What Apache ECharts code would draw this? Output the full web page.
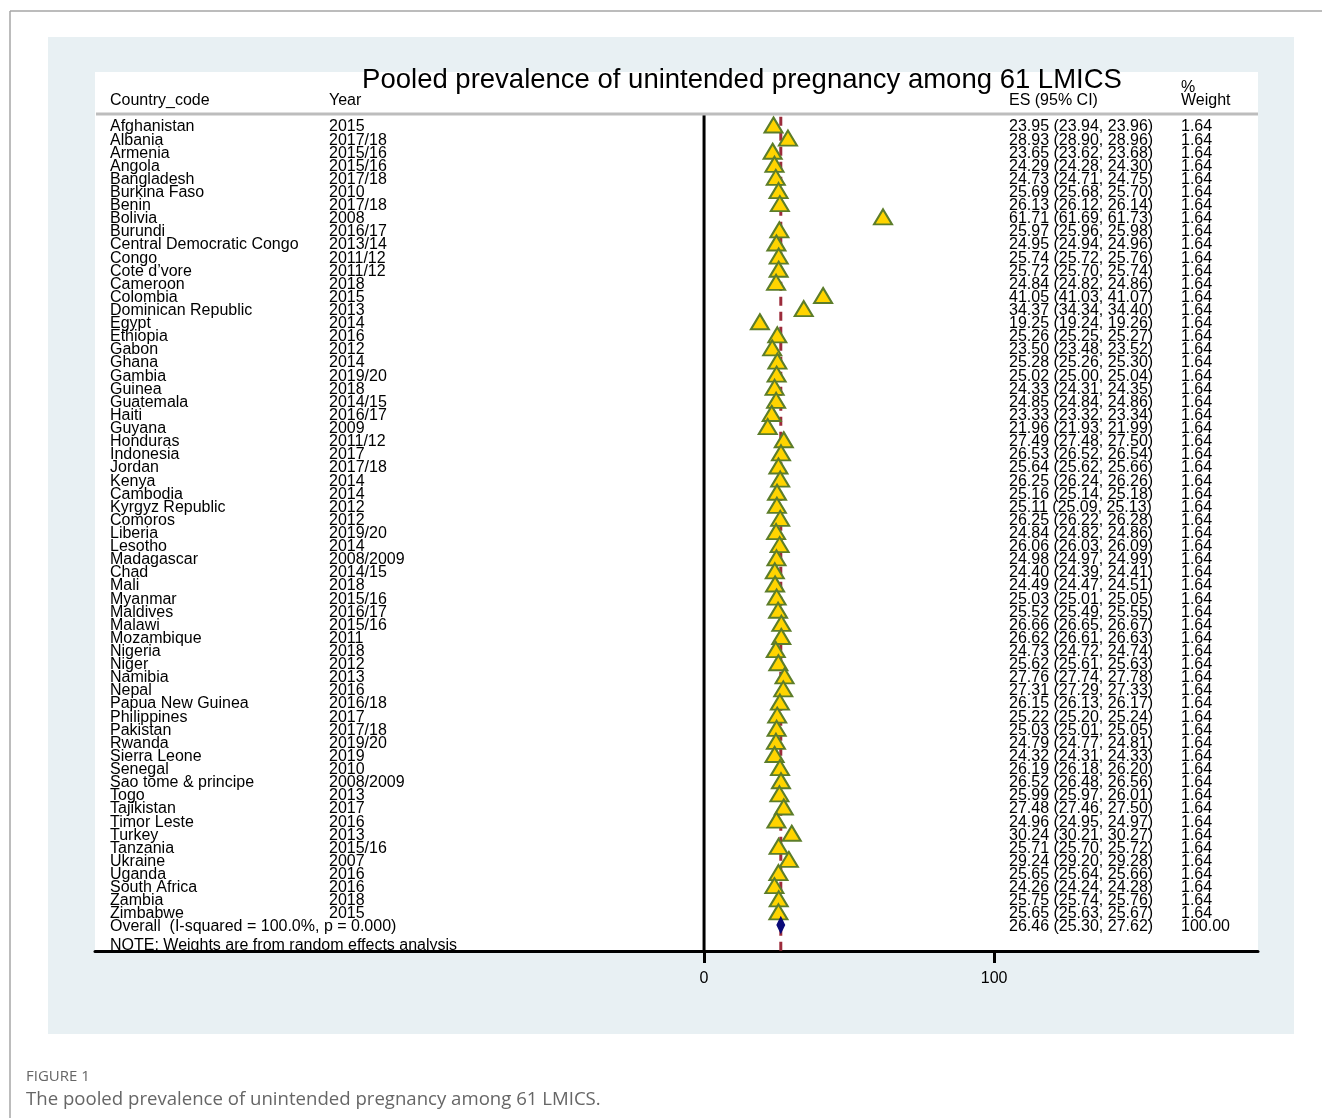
<!DOCTYPE html>
<html>
<head>
<meta charset="utf-8">
<title>Pooled prevalence of unintended pregnancy among 61 LMICS</title>
<script src="https://cdn.jsdelivr.net/npm/echarts@6/dist/echarts.min.js"></script>
<style>
  html, body { margin: 0; padding: 0; background: #ffffff; }
  #chart { width: 1322px; height: 1118px; }
</style>
</head>
<body>
<div id="chart"></div>
<script>
// Study-level prevalence estimates (%), 95% CI and random-effects weights
const countries = ["Afghanistan","Albania","Armenia","Angola","Bangladesh","Burkina Faso","Benin","Bolivia","Burundi","Central Democratic Congo",
  "Congo","Cote d\u2019vore","Cameroon","Colombia","Dominican Republic","Egypt","Ethiopia","Gabon","Ghana","Gambia",
  "Guinea","Guatemala","Haiti","Guyana","Honduras","Indonesia","Jordan","Kenya","Cambodia","Kyrgyz Republic",
  "Comoros","Liberia","Lesotho","Madagascar","Chad","Mali","Myanmar","Maldives","Malawi","Mozambique",
  "Nigeria","Niger","Namibia","Nepal","Papua New Guinea","Philippines","Pakistan","Rwanda","Sierra Leone","Senegal",
  "Sao tome & principe","Togo","Tajikistan","Timor Leste","Turkey","Tanzania","Ukraine","Uganda","South Africa","Zambia","Zimbabwe"];

const years = ["2015","2017/18","2015/16","2015/16","2017/18","2010","2017/18","2008","2016/17","2013/14",
  "2011/12","2011/12","2018","2015","2013","2014","2016","2012","2014","2019/20",
  "2018","2014/15","2016/17","2009","2011/12","2017","2017/18","2014","2014","2012",
  "2012","2019/20","2014","2008/2009","2014/15","2018","2015/16","2016/17","2015/16","2011",
  "2018","2012","2013","2016","2016/18","2017","2017/18","2019/20","2019","2010",
  "2008/2009","2013","2017","2016","2013","2015/16","2007","2016","2016","2018","2015"];

const es = [23.95,28.93,23.65,24.29,24.73,25.69,26.13,61.71,25.97,24.95,
  25.74,25.72,24.84,41.05,34.37,19.25,25.26,23.50,25.28,25.02,
  24.33,24.85,23.33,21.96,27.49,26.53,25.64,26.25,25.16,25.11,
  26.25,24.84,26.06,24.98,24.40,24.49,25.03,25.52,26.66,26.62,
  24.73,25.62,27.76,27.31,26.15,25.22,25.03,24.79,24.32,26.19,
  26.52,25.99,27.48,24.96,30.24,25.71,29.24,25.65,24.26,25.75,25.65];

const lci = [23.94,28.90,23.62,24.28,24.71,25.68,26.12,61.69,25.96,24.94,
  25.72,25.70,24.82,41.03,34.34,19.24,25.25,23.48,25.26,25.00,
  24.31,24.84,23.32,21.93,27.48,26.52,25.62,26.24,25.14,25.09,
  26.22,24.82,26.03,24.97,24.39,24.47,25.01,25.49,26.65,26.61,
  24.72,25.61,27.74,27.29,26.13,25.20,25.01,24.77,24.31,26.18,
  26.48,25.97,27.46,24.95,30.21,25.70,29.20,25.64,24.24,25.74,25.63];

const uci = [23.96,28.96,23.68,24.30,24.75,25.70,26.14,61.73,25.98,24.96,
  25.76,25.74,24.86,41.07,34.40,19.26,25.27,23.52,25.30,25.04,
  24.35,24.86,23.34,21.99,27.50,26.54,25.66,26.26,25.18,25.13,
  26.28,24.86,26.09,24.99,24.41,24.51,25.05,25.55,26.67,26.63,
  24.74,25.63,27.78,27.33,26.17,25.24,25.05,24.81,24.33,26.20,
  26.56,26.01,27.50,24.97,30.27,25.72,29.28,25.66,24.28,25.76,25.67];

const weights = ["1.64","1.64","1.64","1.64","1.64","1.64","1.64","1.64","1.64","1.64",
  "1.64","1.64","1.64","1.64","1.64","1.64","1.64","1.64","1.64","1.64",
  "1.64","1.64","1.64","1.64","1.64","1.64","1.64","1.64","1.64","1.64",
  "1.64","1.64","1.64","1.64","1.64","1.64","1.64","1.64","1.64","1.64",
  "1.64","1.64","1.64","1.64","1.64","1.64","1.64","1.64","1.64","1.64",
  "1.64","1.64","1.64","1.64","1.64","1.64","1.64","1.64","1.64","1.64","1.64"];

// Pooled (random effects) estimate
const overallLabel = "Overall  (I-squared = 100.0%, p = 0.000)";
const overallES = 26.46;
const overallLCI = 25.30;
const overallUCI = 27.62;
const overallWeight = "100.00";

const xTicks = [0, 100];

// ---------------------------------------------------------------
const FONT = '"Liberation Sans", Arial, sans-serif';
const TEXT_DY = 2;            // nudge so glyphs sit centred on each row
const nStudies = countries.length;
const overallRow = nStudies;

const fmt = v => v.toFixed(2);
const ciText = (e, l, u) => fmt(e) + " (" + fmt(l) + ", " + fmt(u) + ")";

// rows for the text/CI custom series: [es, row, lci, uci]
const rowData = countries.map((c, i) => [es[i], i, lci[i], uci[i]]);
const rowLabels = countries.map((c, i) => ({
  name: c, year: years[i], ci: ciText(es[i], lci[i], uci[i]), w: weights[i]
}));

const chart = echarts.init(document.getElementById('chart'), null, { renderer: 'canvas' });

function textEl(x, y, str, size, align) {
  return {
    type: 'text',
    style: { x: x, y: y + TEXT_DY, text: str, font: size + 'px ' + FONT, fill: '#000', align: align || 'left', verticalAlign: 'middle' }
  };
}

function headText(x, y, str, size) {
  return { type: 'text', x: x, y: y + TEXT_DY, z: 10,
    style: { text: str, font: size + 'px ' + FONT, fill: '#000', verticalAlign: 'middle' } };
}

const option = {
  animation: false,
  backgroundColor: '#ffffff',
  grid: {
    left: 95, top: 72, width: 1163, height: 879,
    show: true, backgroundColor: '#ffffff', borderWidth: 0, containLabel: false
  },
  xAxis: {
    type: 'value', min: -210, max: 191,
    axisLine: { show: true, onZero: false, lineStyle: { color: '#000', width: 3 } },
    axisTick: { show: true, customValues: xTicks, length: 12, lineStyle: { color: '#000', width: 3 } },
    axisLabel: { show: true, customValues: xTicks, margin: 20, fontFamily: FONT, fontSize: 16, color: '#000' },
    splitLine: { show: false }
  },
  yAxis: {
    type: 'value', inverse: true, min: -4.04, max: 62.98, show: false
  },
  graphic: [
    // page frame
    { type: 'line', shape: { x1: 10, y1: 11, x2: 1322, y2: 11 }, style: { stroke: '#a6a6a6', lineWidth: 1.5 }, z: -10 },
    { type: 'line', shape: { x1: 10, y1: 11, x2: 10, y2: 1118 }, style: { stroke: '#a6a6a6', lineWidth: 1.5 }, z: -10 },
    // figure panel
    { type: 'rect', shape: { x: 48, y: 37, width: 1246, height: 997 }, style: { fill: '#e8f0f3' }, z: -20 },
    // header rule
    { type: 'rect', shape: { x: 96, y: 112.5, width: 1162, height: 3 }, style: { fill: '#bdbdbd' }, z: 5 },
    // title and column headings
    { type: 'text', x: 742, y: 78 + TEXT_DY, z: 10,
      style: { text: 'Pooled prevalence of unintended pregnancy among 61 LMICS', font: '27.5px ' + FONT, fill: '#000', align: 'center', verticalAlign: 'middle' } },
    headText(110, 99, 'Country_code', 16),
    headText(329, 99, 'Year', 16),
    headText(1009, 99, 'ES (95% CI)', 16),
    headText(1181, 86, '%', 16),
    headText(1181, 99, 'Weight', 16),
    Object.assign(headText(110, 944, 'NOTE: Weights are from random effects analysis', 16), { z: 1 }),
    // figure caption
    { type: 'text', x: 26, y: 1077, z: 10,
      style: { text: 'FIGURE 1', font: '15px "Open Sans", sans-serif', fill: '#666666', verticalAlign: 'middle' } },
    { type: 'text', x: 26, y: 1100, z: 10,
      style: { text: 'The pooled prevalence of unintended pregnancy among 61 LMICS.', font: '18.6px "Open Sans", sans-serif', fill: '#666666', verticalAlign: 'middle' } }
  ],
  series: [
    // line of no effect at 0
    {
      type: 'line', data: [[0, -0.77], [0, 62.98]], symbol: 'none', silent: true, z: 3,
      lineStyle: { color: '#000', width: 3 }
    },
    // pooled estimate reference line
    {
      type: 'line', data: [[overallES, -0.62], [overallES, 62.98]], symbol: 'none', silent: true, z: 3,
      lineStyle: { color: '#9c2b3b', width: 3, type: [9, 6] }
    },
    // labels and confidence intervals for each study
    {
      type: 'custom', coordinateSystem: 'cartesian2d', z: 4, silent: true,
      data: rowData,
      renderItem: function (params, api) {
        const i = params.dataIndex;
        const row = api.value(1);
        const y = api.coord([0, row])[1];
        const a = api.coord([api.value(2), row]);
        const b = api.coord([api.value(3), row]);
        const lab = rowLabels[i];
        return {
          type: 'group',
          children: [
            { type: 'line', shape: { x1: a[0], y1: y, x2: b[0], y2: y }, style: { stroke: '#000', lineWidth: 1 } },
            textEl(110, y, lab.name, 16),
            textEl(329, y, lab.year, 16),
            textEl(1009, y, lab.ci, 16),
            textEl(1181, y, lab.w, 16)
          ]
        };
      }
    },
    // study point estimates
    {
      type: 'scatter', z: 6,
      data: countries.map((c, i) => [es[i], i]),
      symbol: 'triangle', symbolSize: [18, 15],
      itemStyle: { color: '#ffd400', borderColor: '#5c7d2a', borderWidth: 2, opacity: 1 }
    },
    // overall row: diamond + labels
    {
      type: 'custom', coordinateSystem: 'cartesian2d', z: 7, silent: true,
      data: [[overallES, overallRow, overallLCI, overallUCI]],
      renderItem: function (params, api) {
        const row = api.value(1);
        const c = api.coord([api.value(0), row]);
        const l = api.coord([api.value(2), row]);
        const u = api.coord([api.value(3), row]);
        const h = 7;
        return {
          type: 'group',
          children: [
            { type: 'polygon', shape: { points: [[l[0], c[1]], [c[0], c[1] - h], [u[0], c[1]], [c[0], c[1] + h]] },
              style: { fill: '#0a0a78', stroke: '#0a0a78', lineWidth: 2 } },
            textEl(110, c[1], overallLabel, 16),
            textEl(1009, c[1], ciText(overallES, overallLCI, overallUCI), 16),
            textEl(1181, c[1], overallWeight, 16)
          ]
        };
      }
    }
  ]
};

chart.setOption(option);
</script>
</body>
</html>
